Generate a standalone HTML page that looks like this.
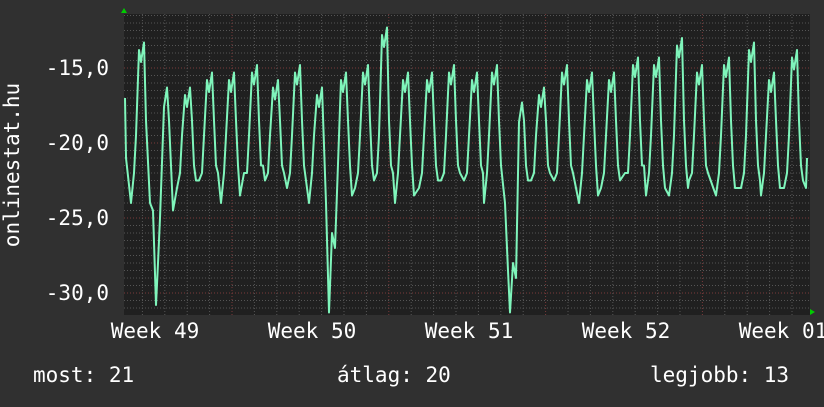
<!DOCTYPE html><html><head><style>
body{margin:0;background:#303030;width:824px;height:402px;overflow:hidden}
text{font-family:"DejaVu Sans Mono","Liberation Mono",monospace;fill:#fff}
</style></head><body>
<svg id="s" width="824" height="402" xmlns="http://www.w3.org/2000/svg">
<rect width="824" height="402" fill="#303030"/>
<rect x="124" y="14" width="686" height="301" fill="#202020"/>
<g id="g"></g>
<path id="p" fill="none" stroke="#7ff5bb" stroke-width="2" stroke-linejoin="round"/>
<polygon points="121,13 127,13 124,8" fill="#0c0"/>
<polygon points="810,309 810,315 815,312" fill="#0c0"/>
<g font-size="21" text-anchor="end">
<text x="109" y="75">-15,0</text><text x="109" y="150">-20,0</text><text x="109" y="225">-25,0</text><text x="109" y="300">-30,0</text>
</g>
<text transform="translate(19,165) rotate(-90)" font-size="21" text-anchor="middle">onlinestat.hu</text>
<g font-size="21" text-anchor="middle">
<text x="155" y="338">Week 49</text><text x="312" y="338">Week 50</text><text x="469" y="338">Week 51</text><text x="626" y="338">Week 52</text><text x="783" y="338">Week 01</text>
</g>
<g font-size="21"><text x="33" y="382">most: 21</text><text x="337" y="382">átlag: 20</text><text x="650" y="382">legjobb: 13</text></g>
</svg>
<script>
var g=document.getElementById('g'),h='';
function Y(v){return 68+(-15-v)*15;}
for(var v=-11.5;v>=-31.5;v-=0.5){var y=Y(v);if(y<14||y>315)continue;var maj=Math.abs(v%5)<0.01;
h+='<line x1="124" x2="810" y1="'+y+'" y2="'+y+'" stroke="'+(maj?'#7a3a3a':'#555')+'" stroke-dasharray="1,2"/>';}
for(var x=142.4;x<810;x+=22.4){var k=Math.round((x-232)/22.4);var maj=(k%7==0);
h+='<line y1="14" y2="315" x1="'+x+'" x2="'+x+'" stroke="'+(maj?'#7a3a3a':'#555')+'" stroke-dasharray="1,2"/>';}
g.innerHTML=h;
var pk=[[142,-14],[165,-17],[188,-17],[210,-16],[232,-16],[255,-15.5],[276,-16.5],[298,-15.5],[320,-17],[344,-16],[366,-15.5],[385,-13],[406,-16],[430,-16],[452,-15.5],[475,-16],[495,-15.5],[520,-18],[542,-17],[565,-15.5],[590,-16],[612,-16],[636,-15],[657,-15],[680,-13.7],[700,-15.5],[727,-15],[752,-14],[772,-16],[795,-14.5]];
var tr=[-24,-25,-23,-22.5,-24,-22,-22.5,-23,-24,-24,-23,-22.5,-24,-23,-22.5,-22.5,-24,-23,-22.5,-22.5,-24,-23,-22,-23.5,-23.5,-22.5,-23.5,-23,-23.5,-23];
var pts=[[125,-17],[126,-21]];
for(var i=0;i<pk.length;i++){var c=pk[i][0],p=pk[i][1]-0.8,t=tr[i];
pts.push([c-11,t],[c-8,-22],[c-6,-19.5],[c-3,p+1],[c-1,p+0.2],[c+2,p+1.5],[c+4,-18.5],[c+6,-21.5],[c+8,t+0.5]);}
var dips=[[148,162,[[150,-24],[153,-24.5],[156,-30.8],[158,-28],[160,-25]]],[324,338,[[326,-24],[329,-31.3],[332,-26],[335,-27]]],[503,518,[[505,-24],[508,-28.5],[510,-31.3],[513,-28],[516,-29]]]];
dips.forEach(function(d){pts=pts.filter(function(q){return q[0]<d[0]||q[0]>d[1]});pts=pts.concat(d[2]);});
pts.push([806,-23],[807,-21]);
pts.sort(function(a,b){return a[0]-b[0]});
document.getElementById('p').setAttribute('d','M'+pts.map(function(q){return q[0]+','+Y(q[1]).toFixed(1)}).join(' L'));
</script>
</body></html>
